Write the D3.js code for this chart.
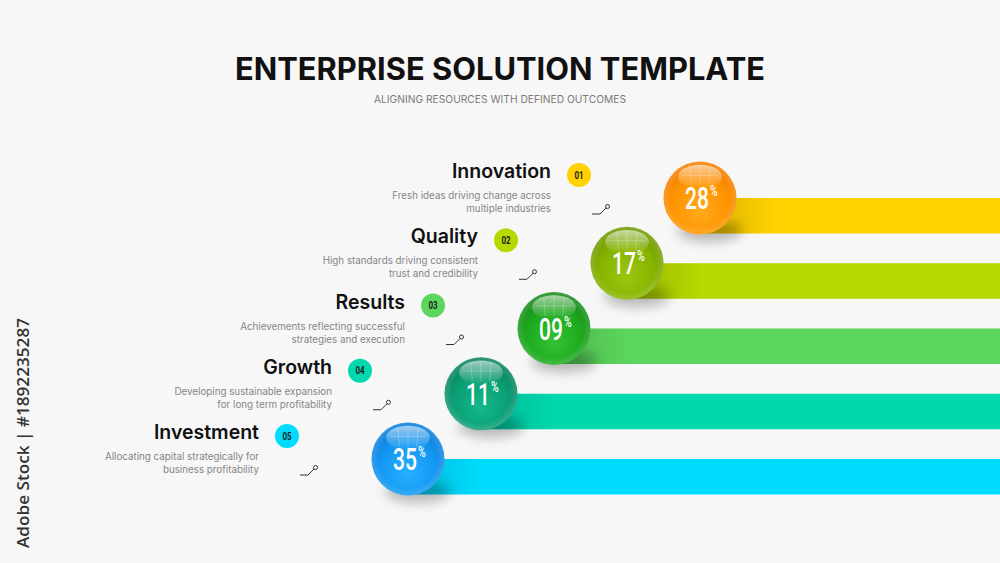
<!DOCTYPE html>
<html><head><meta charset="utf-8">
<script src="https://cdn.jsdelivr.net/npm/d3@7/dist/d3.min.js"></script>
<style>html,body{margin:0;padding:0;background:#f7f7f7;overflow:hidden}svg{display:block}</style>
</head><body>
<script>
const titleText = "ENTERPRISE SOLUTION TEMPLATE";
const subtitleText = "ALIGNING RESOURCES WITH DEFINED OUTCOMES";
const categories = ["Innovation","Quality","Results","Growth","Investment"];
const badges = ["01","02","03","04","05"];
const values = ["28","17","09","11","35"];
const descLine1 = ["Fresh ideas driving change across","High standards driving consistent","Achievements reflecting successful","Developing sustainable expansion","Allocating capital strategically for"];
const descLine2 = ["multiple industries","trust and credibility","strategies and execution","for long term profitability","business profitability"];
const barColors = ["#FFD200","#B7D800","#5CD65C","#00D8AE","#00DCFF"];
const sphereLight = ["#FFAA1A","#9CC60E","#34C234","#14B88A","#2AB0FF"];
const sphereMid = ["#FF9400","#86B400","#1EAA1E","#0A9F74","#1298F2"];
const sphereDark = ["#F57F00","#6F9A00","#178C19","#07835F","#0A7EDC"];

const W = 1000, H = 563;
const svg = d3.select("body").append("svg").attr("width", W).attr("height", H);
const defs = svg.append("defs");

svg.append("rect").attr("width", W).attr("height", H).attr("fill", "#f7f7f7");

const idx = d3.range(categories.length);
const y = d3.scaleLinear().domain([0, 4]).range([198, 459]);
const x = d3.scaleLinear().domain([0, 4]).range([700, 408]);
const R = 36.5, barH = 35.5;

defs.append("filter").attr("id","blur").attr("x","-50%").attr("y","-50%").attr("width","200%").attr("height","200%")
  .append("feGaussianBlur").attr("stdDeviation", 6);

const shadowGrad = defs.append("linearGradient").attr("id","barShadow").attr("x1","0").attr("x2","1");
shadowGrad.append("stop").attr("offset","0").attr("stop-color","#000").attr("stop-opacity",0.16);
shadowGrad.append("stop").attr("offset","1").attr("stop-color","#000").attr("stop-opacity",0);

const hl = defs.append("linearGradient").attr("id","hl").attr("x1","0").attr("y1","0").attr("x2","0").attr("y2","1");
hl.append("stop").attr("offset","0").attr("stop-color","#fff").attr("stop-opacity",0.75);
hl.append("stop").attr("offset","1").attr("stop-color","#fff").attr("stop-opacity",0.0);

idx.forEach(i => {
  const g = defs.append("radialGradient").attr("id","sg"+i).attr("cx","50%").attr("cy","62%").attr("r","58%").attr("fx","50%").attr("fy","70%");
  g.append("stop").attr("offset","0").attr("stop-color", sphereLight[i]);
  g.append("stop").attr("offset","0.65").attr("stop-color", sphereMid[i]);
  g.append("stop").attr("offset","1").attr("stop-color", sphereDark[i]);
  const rim = defs.append("radialGradient").attr("id","rim"+i).attr("cx","50%").attr("cy","50%").attr("r","50%");
  rim.append("stop").attr("offset","0.8").attr("stop-color","#fff").attr("stop-opacity",0);
  rim.append("stop").attr("offset","1").attr("stop-color","#fff").attr("stop-opacity",0.18);
});

svg.append("text").attr("x", 500).attr("y", 80).attr("text-anchor","middle")
  .attr("font-family","Inter, 'Noto Sans', sans-serif").attr("font-weight",700).attr("font-size",31)
  .attr("fill","#111").attr("textLength",530).attr("lengthAdjust","spacingAndGlyphs").text(titleText);
svg.append("text").attr("x", 500).attr("y", 103).attr("text-anchor","middle")
  .attr("font-family","Inter, 'Noto Sans', sans-serif").attr("font-size",10.5)
  .attr("fill","#7a7a7a").attr("textLength",252).attr("lengthAdjust","spacingAndGlyphs").text(subtitleText);

svg.append("text").attr("transform","translate(29,433) rotate(-90)").attr("text-anchor","middle")
  .attr("font-family","'Open Sans', 'Noto Sans', sans-serif").attr("font-weight",600).attr("font-size",17).attr("fill","#333")
  .attr("textLength",230).attr("lengthAdjust","spacingAndGlyphs")
  .text("Adobe Stock | #1892235287");

const rows = svg.append("g");
idx.slice().reverse().forEach(i => {
  const g = rows.append("g");
  const cx = x(i), cy = y(i);
  g.append("rect").attr("x", cx).attr("y", cy).attr("width", W - cx).attr("height", barH).attr("fill", barColors[i]);
  g.append("rect").attr("x", cx).attr("y", cy).attr("width", 75).attr("height", barH).attr("fill", "url(#barShadow)");
});

idx.slice().reverse().forEach(i => {
  const g = svg.append("g");
  const cx = x(i), cy = y(i);
  g.append("ellipse").attr("cx", cx + 10).attr("cy", cy + R * 0.9).attr("rx", R * 0.9).attr("ry", R * 0.3)
    .attr("fill", "#000").attr("opacity", 0.25).attr("filter", "url(#blur)");
  g.append("circle").attr("cx", cx).attr("cy", cy).attr("r", R).attr("fill", "url(#sg"+i+")");
  g.append("circle").attr("cx", cx).attr("cy", cy).attr("r", R).attr("fill", "url(#rim"+i+")");
  g.append("ellipse").attr("cx", cx).attr("cy", cy - R * 0.58).attr("rx", R * 0.6).attr("ry", R * 0.33)
    .attr("fill", "url(#hl)").attr("opacity", 0.8);
  const lines = g.append("g").attr("stroke","#fff").attr("stroke-opacity",0.3).attr("stroke-width",0.8);
  [-0.28, 0, 0.28].forEach(k => lines.append("line")
    .attr("x1", cx + k * R).attr("y1", cy - R * 0.88).attr("x2", cx + k * R * 0.85).attr("y2", cy - R * 0.35));
  lines.append("line").attr("x1", cx - R * 0.5).attr("y1", cy - R * 0.62).attr("x2", cx + R * 0.5).attr("y2", cy - R * 0.62);
  g.append("text").attr("transform", `translate(${cx - 3},${cy + 11}) scale(0.68,1)`)
    .attr("text-anchor","middle").attr("font-family","Roboto, 'DejaVu Sans Condensed', sans-serif")
    .attr("font-weight",500).attr("font-size",31).attr("fill","#fff").text(values[i]);
  g.append("text").attr("transform", `translate(${cx + 10},${cy - 2}) scale(0.75,1)`)
    .attr("font-family","Roboto, sans-serif").attr("font-weight",500).attr("font-size",14).attr("fill","#fff").text("%");
});

idx.forEach(i => {
  const g = svg.append("g");
  const cx = x(i), cy = y(i);
  const rx = cx - 149;
  g.append("text").attr("x", rx).attr("y", cy - 20).attr("text-anchor","end")
    .attr("font-family","Inter, 'Noto Sans', sans-serif").attr("font-weight",600).attr("font-size",19.5)
    .attr("fill","#111").text(categories[i]);
  g.append("text").attr("x", rx).attr("y", cy + 1).attr("text-anchor","end")
    .attr("font-family","Inter, 'Noto Sans', sans-serif").attr("font-size",9.8).attr("fill","#858585").text(descLine1[i]);
  g.append("text").attr("x", rx).attr("y", cy + 14).attr("text-anchor","end")
    .attr("font-family","Inter, 'Noto Sans', sans-serif").attr("font-size",9.8).attr("fill","#858585").text(descLine2[i]);
  g.append("circle").attr("cx", cx - 121).attr("cy", cy - 23).attr("r", 12).attr("fill", barColors[i]);
  g.append("text").attr("transform", `translate(${cx - 121},${cy - 19.5}) scale(0.8,1)`).attr("text-anchor","middle")
    .attr("font-family","Roboto, sans-serif").attr("font-weight",700).attr("font-size",10).attr("fill","#222").text(badges[i]);
  g.append("path").attr("d", `M${cx - 108},${cy + 16} L${cx - 100},${cy + 16} L${cx - 94},${cy + 10}`)
    .attr("fill","none").attr("stroke","#333").attr("stroke-width",1);
  g.append("circle").attr("cx", cx - 92.5).attr("cy", cy + 8.5).attr("r", 2).attr("fill","#f7f7f7").attr("stroke","#333").attr("stroke-width",1);
});
</script>
</body></html>
